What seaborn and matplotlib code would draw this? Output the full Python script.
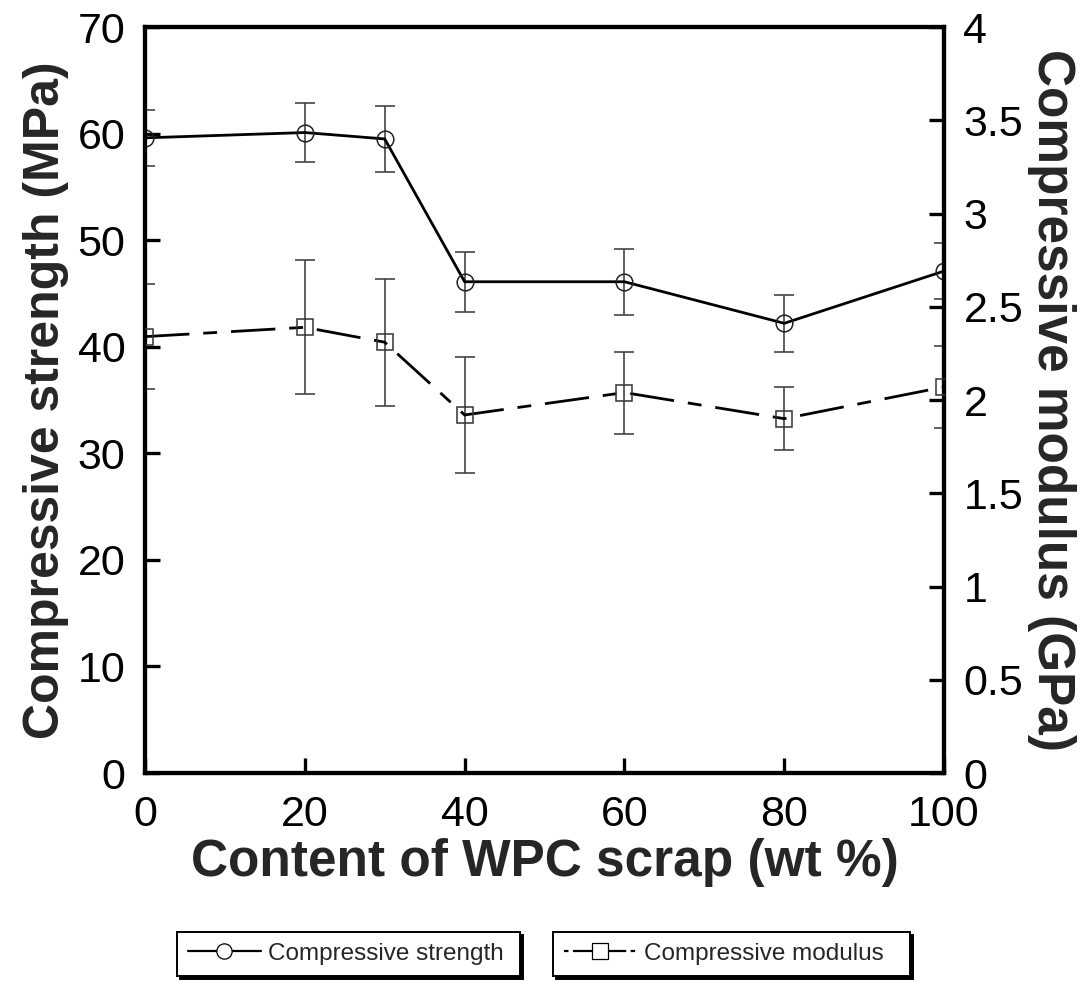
import matplotlib

matplotlib.use("Agg")
import matplotlib.pyplot as plt
import numpy as np
import pandas as pd
import seaborn as sns
from matplotlib.lines import Line2D

# values
wpc_content = [0, 20, 30, 40, 60, 80, 100]
strength_mpa = [59.6, 60.1, 59.5, 46.1, 46.1, 42.2, 47.1]
strength_err = [2.6, 2.8, 3.1, 2.8, 3.1, 2.65, 2.6]
modulus_gpa = [2.34, 2.39, 2.31, 1.92, 2.04, 1.90, 2.07]
modulus_err = [0.28, 0.36, 0.34, 0.31, 0.22, 0.17, 0.22]

left_ticks = [0, 10, 20, 30, 40, 50, 60, 70]
right_ticks = [0, 0.5, 1, 1.5, 2, 2.5, 3, 3.5, 4]
right_ticklabels = ["0", "0.5", "1", "1.5", "2", "2.5", "3", "3.5", "4"]
x_ticks = [0, 20, 40, 60, 80, 100]

FONT = ["Liberation Sans", "DejaVu Sans"]
DASHDOT = (0, (16, 5, 5, 5))


def style_axis(ax):
    for side in ["left", "right", "top", "bottom"]:
        ax.spines[side].set_linewidth(3.0)
        ax.spines[side].set_color("black")
    ax.tick_params(axis="both", direction="in", length=11, width=2.4, labelsize=31, colors="black")


def main():
    sns.set_theme(style="ticks")
    plt.rcParams["font.family"] = FONT

    df = pd.DataFrame(
        {
            "content": wpc_content,
            "strength": strength_mpa,
            "strength_err": strength_err,
            "modulus": modulus_gpa,
            "modulus_err": modulus_err,
        }
    )

    fig = plt.figure(figsize=(10.91, 9.94), dpi=100)
    ax = fig.add_axes([0.1329, 0.2223, 0.7324, 0.7505])
    ax2 = ax.twinx()

    ax.errorbar(
        df["content"], df["strength"], yerr=df["strength_err"], fmt="none",
        ecolor="#444444", elinewidth=1.2, capsize=7, capthick=1.2, zorder=2,
    )
    sns.lineplot(
        data=df, x="content", y="strength", ax=ax, color="black", linewidth=2.0,
        marker="o", markersize=12, markerfacecolor="none", markeredgecolor="#222222",
        markeredgewidth=1.1, errorbar=None, zorder=3,
    )
    ax2.errorbar(
        df["content"], df["modulus"], yerr=df["modulus_err"], fmt="none",
        ecolor="#444444", elinewidth=1.2, capsize=7, capthick=1.2, zorder=2,
    )
    sns.lineplot(
        data=df, x="content", y="modulus", ax=ax2, color="black", linewidth=2.0,
        linestyle=DASHDOT, marker="s", markersize=12, markerfacecolor="none",
        markeredgecolor="#333333", markeredgewidth=1.1, errorbar=None, zorder=3,
    )

    ax.set_xlim(0, 100)
    ax.set_ylim(0, 70)
    ax2.set_ylim(0, 4)
    ax.set_xticks(x_ticks)
    ax.set_yticks(left_ticks)
    ax2.set_yticks(right_ticks)
    ax2.set_yticklabels(right_ticklabels)

    style_axis(ax)
    style_axis(ax2)
    ax.tick_params(axis="x", top=False, pad=16)
    ax.tick_params(axis="y", right=False, pad=14)
    ax2.tick_params(axis="y", left=False, right=True, pad=14)

    ax.set_xlabel("Content of WPC scrap (wt %)", fontsize=37, fontweight="bold", labelpad=2)
    ax.set_ylabel("Compressive strength (MPa)", fontsize=36, fontweight="bold", labelpad=6)
    ax2.set_ylabel("Compressive modulus (GPa)", fontsize=37, fontweight="bold", rotation=270, labelpad=38)
    ax.grid(False)
    ax2.grid(False)

    h1 = Line2D([0], [0], color="black", linewidth=1.6, marker="o", markersize=11,
                markerfacecolor="white", markeredgecolor="black", markeredgewidth=0.9)
    h2 = Line2D([0], [0], color="black", linewidth=1.6, linestyle=(0, (2, 2, 9, 2)), marker="s",
                markersize=11, markerfacecolor="white", markeredgecolor="black", markeredgewidth=0.9)
    boxes = [
        (h1, "Compressive strength", 177 / 1091, 343 / 1091),
        (h2, "Compressive modulus", 553 / 1091, 357 / 1091),
    ]
    for handle, label, x0, width in boxes:
        leg = fig.legend(
            handles=[handle], labels=[label], loc="upper left",
            bbox_to_anchor=(x0, 1 - 975 / 994, width, 43 / 994), mode="expand",
            fontsize=17.5, frameon=True, fancybox=False, handlelength=3.0, handletextpad=0.3,
            borderpad=0.45, borderaxespad=0.0,
            shadow={"facecolor": "black", "edgecolor": "black", "alpha": 1},
        )
        leg.get_frame().set_edgecolor("black")
        leg.get_frame().set_linewidth(1.4)
        leg.get_frame().set_facecolor("white")

    fig.savefig("out.png", dpi=100, facecolor="white")
    plt.close(fig)


if __name__ == "__main__":
    main()
